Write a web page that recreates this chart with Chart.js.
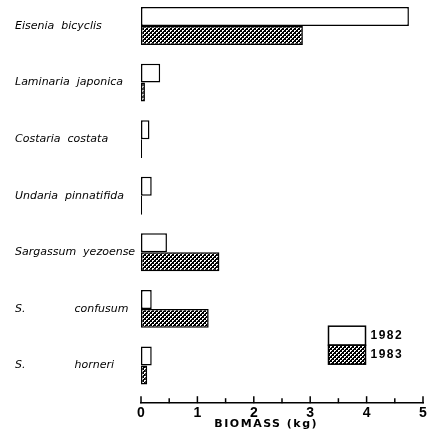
<!DOCTYPE html>
<html>
<head>
<meta charset="utf-8">
<script src="https://cdn.jsdelivr.net/npm/chart.js@4/dist/chart.umd.min.js"></script>
<style>
  html, body { margin: 0; padding: 0; background: #fff; }
  canvas { display: block; }
</style>
</head>
<body>
<canvas id="biomass" width="432" height="434"></canvas>
<script>
// species (top to bottom) and biomass in kg
const species = [
  'Eisenia  bicyclis',
  'Laminaria  japonica',
  'Costaria  costata',
  'Undaria  pinnatifida',
  'Sargassum  yezoense',
  'S.              confusum',
  'S.              horneri'
];
const years = ['1982', '1983'];
const biomass1982 = [4.75, 0.34, 0.15, 0.19, 0.46, 0.19, 0.19];
const biomass1983 = [2.87, 0.07, 0.02, 0.02, 1.39, 1.20, 0.11];
const xTicks = [0, 1, 2, 3, 4, 5];
const axisTitle = 'BIOMASS (kg)';

// cross-hatch fill for 1983
function hatch() {
  const c = document.createElement('canvas');
  c.width = 4; c.height = 4;
  const g = c.getContext('2d');
  g.fillStyle = '#000';
  g.fillRect(0, 0, 4, 4);
  g.fillStyle = '#fff';
  g.fillRect(0, 0, 2, 2);
  g.fillRect(2, 2, 2, 2);
  g.fillStyle = '#000';
  g.fillRect(1, 1, 1, 1);
  g.fillRect(3, 3, 1, 1);
  return g.createPattern(c, 'repeat');
}
const hatchFill = hatch();

// upward tick marks, axis title and boxed legend like the printed figure
const paperBits = {
  id: 'paperBits',
  afterDatasetsDraw(chart) {
    const { ctx, chartArea, scales: { x } } = chart;
    ctx.save();
    ctx.strokeStyle = '#000';
    ctx.lineWidth = 1.5;
    x.ticks.forEach(t => {
      const px = x.getPixelForValue(t.value);
      const len = Number.isInteger(t.value) ? 7 : 5;
      ctx.beginPath();
      ctx.moveTo(px, chartArea.bottom);
      ctx.lineTo(px, chartArea.bottom - len);
      ctx.stroke();
    });

    ctx.fillStyle = '#000';
    ctx.font = 'bold 11px "DejaVu Sans"';
    ctx.letterSpacing = '1.5px';
    ctx.textAlign = 'center';
    ctx.textBaseline = 'middle';
    ctx.fillText(axisTitle, x.getPixelForValue(2.22), chartArea.bottom + 20.5);

    // legend
    const bx = chartArea.right - 94.5, by = chartArea.bottom - 77, bw = 37, bh = 19;
    chart.data.datasets.forEach((ds, i) => {
      ctx.fillStyle = ds.backgroundColor;
      ctx.fillRect(bx, by + i * bh, bw, bh);
      ctx.strokeStyle = '#000';
      ctx.lineWidth = 1.5;
      ctx.strokeRect(bx, by + i * bh, bw, bh);
      ctx.fillStyle = '#000';
      ctx.font = 'bold 12px "Liberation Sans"';
      ctx.letterSpacing = '1.5px';
      ctx.textAlign = 'left';
      ctx.fillText(ds.label, bx + bw + 5, by + i * bh + bh / 2);
    });
    ctx.restore();
  }
};

new Chart(document.getElementById('biomass'), {
  type: 'bar',
  data: {
    datasets: [
      {
        label: years[0],
        data: biomass1982.map((v, i) => ({ x: v, y: i })),
        backgroundColor: '#fff',
        borderColor: '#000',
        borderWidth: 1.5,
        borderSkipped: false
      },
      {
        label: years[1],
        data: biomass1983.map((v, i) => ({ x: v, y: i })),
        backgroundColor: hatchFill,
        borderColor: '#000',
        borderWidth: 1.5,
        borderSkipped: false
      }
    ]
  },
  options: {
    indexAxis: 'y',
    responsive: false,
    animation: false,
    devicePixelRatio: 1,
    layout: { padding: { top: 0, left: 15, right: 9, bottom: 10 } },
    datasets: { bar: { categoryPercentage: 0.67, barPercentage: 1 } },
    plugins: { legend: { display: false }, tooltip: { enabled: false } },
    scales: {
      y: {
        type: 'linear',
        reverse: true,
        offset: false,
        min: -0.46,
        max: 6.667,
        grid: { display: false, offset: false },
        border: { display: false },
        afterFit: s => { s.width = 126; s.paddingTop = 0; s.paddingBottom = 0; },
        ticks: {
          stepSize: 1,
          includeBounds: false,
          autoSkip: false,
          crossAlign: 'far',
          color: '#000',
          font: { family: '"DejaVu Sans"', size: 11, style: 'italic' },
          callback: v => species[v]
        }
      },
      x: {
        type: 'linear',
        min: 0,
        max: 5,
        offset: false,
        grid: { display: false, drawTicks: false },
        border: { display: true, color: '#000', width: 1.5 },
        ticks: {
          stepSize: 0.5,
          autoSkip: false,
          maxRotation: 0,
          padding: 2,
          color: '#000',
          font: { family: '"Liberation Sans Narrow", "Liberation Sans"', size: 14, weight: 'bold' },
          callback: v => (xTicks.includes(v) ? String(v) : '')
        }
      }
    }
  },
  plugins: [paperBits]
});
</script>
</body>
</html>
